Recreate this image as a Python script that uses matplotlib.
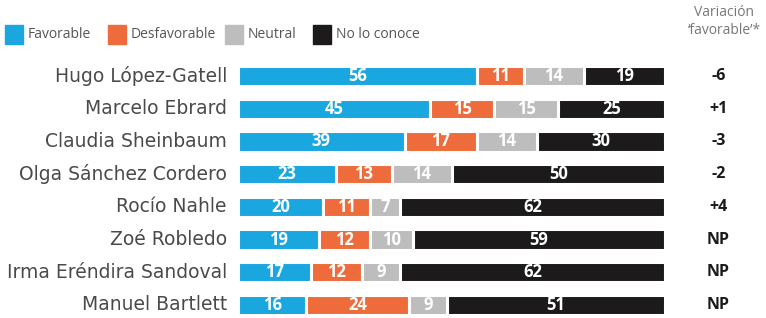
import matplotlib
matplotlib.use("Agg")
import matplotlib.pyplot as plt
import numpy as np

names = ["Hugo López-Gatell", "Marcelo Ebrard", "Claudia Sheinbaum",
         "Olga Sánchez Cordero", "Rocío Nahle", "Zoé Robledo",
         "Irma Eréndira Sandoval", "Manuel Bartlett"]
favorable = [56, 45, 39, 23, 20, 19, 17, 16]
desfavorable = [11, 15, 17, 13, 11, 12, 12, 24]
neutral = [14, 15, 14, 14, 7, 10, 9, 9]
no_conoce = [19, 25, 30, 50, 62, 59, 62, 51]
variacion = ["-6", "+1", "-3", "-2", "+4", "NP", "NP", "NP"]

series_labels = ["Favorable", "Desfavorable", "Neutral", "No lo conoce"]
colors = ["#1aa7e0", "#ee6b3b", "#bdbdbd", "#1c1a1b"]

plt.rcParams['font.family'] = ['Open Sans', 'DejaVu Sans']

W, H = 766, 318
fig = plt.figure(figsize=(W / 100, H / 100), dpi=100)
ax = fig.add_axes([238 / W, 0, 427 / W, 258 / H])

y = np.arange(len(names))
left = np.zeros(len(names))
for vals, col in zip([favorable, desfavorable, neutral, no_conoce], colors):
    vals = np.array(vals, dtype=float)
    ax.barh(y, vals, left=left, height=0.62, color=col,
            edgecolor="white", linewidth=2.2)
    for yi, (l, v) in enumerate(zip(left, vals)):
        ax.text(l + v / 2, yi, f"{int(v)}", ha="center", va="center",
                color="white", fontsize=12, fontweight="bold")
    left += vals

ax.set_xlim(0, 100)
ax.set_ylim(7.4, -0.49)
ax.axis("off")

for yi, nm in enumerate(names):
    ax.text(-2.6, yi, nm, ha="right", va="center", fontsize=13.5,
            color="#4a4a4a", family=["DejaVu Sans"])
    ax.text(112.5, yi, variacion[yi], ha="center", va="center",
            fontsize=11.5, fontweight="bold", color="#1c1a1b")

# Legend
leg_items = [(5, "Favorable"), (108, "Desfavorable"), (225, "Neutral"),
             (313, "No lo conoce")]
for (px, lab), col in zip(leg_items, colors):
    fig.patches.append(plt.Rectangle((px / W, (H - 44) / H), 18 / W, 19 / H,
                                     transform=fig.transFigure, color=col))
    fig.text((px + 23) / W, (H - 35) / H, lab, ha="left", va="center",
             fontsize=10, color="#555555")

fig.text(724 / W, (H - 12) / H, "Variación", ha="center", va="center",
         fontsize=10, color="#777777")
fig.text(724 / W, (H - 30) / H, "‘favorable’*", ha="center", va="center",
         fontsize=10, color="#777777")

fig.savefig("out.png", dpi=100)
